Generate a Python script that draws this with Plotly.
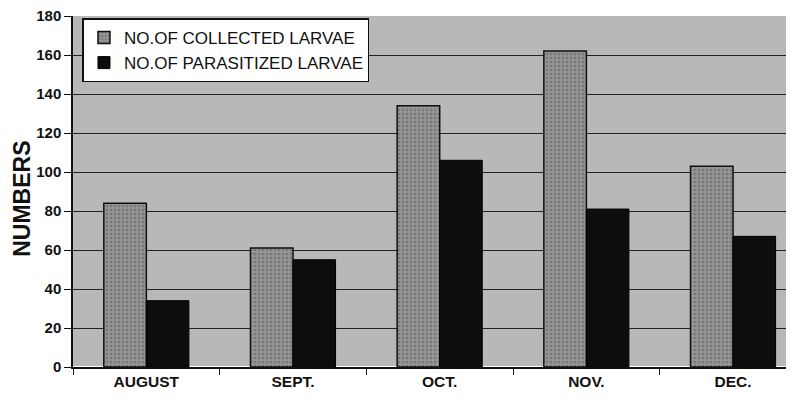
import plotly.graph_objects as go

months = ["AUGUST", "SEPT.", "OCT.", "NOV.", "DEC."]
collected = [84, 61, 134, 162, 103]
parasitized = [34, 55, 106, 81, 67]
y_ticks = [0, 20, 40, 60, 80, 100, 120, 140, 160, 180]

fig = go.Figure()
fig.add_trace(go.Bar(
    x=months, y=collected, name="NO.OF COLLECTED LARVAE",
    marker=dict(color="#8e8e8e", line=dict(color="#111111", width=1.5),
                pattern=dict(shape=".", fgcolor="#5a5a5a", bgcolor="#959595", size=4, solidity=0.35)),
))
fig.add_trace(go.Bar(
    x=months, y=parasitized, name="NO.OF PARASITIZED LARVAE",
    marker=dict(color="#0d0d0d", line=dict(color="#000000", width=1)),
))

fig.update_layout(
    width=794, height=402,
    margin=dict(l=65, r=0, t=8, b=43),
    paper_bgcolor="white",
    plot_bgcolor="#b8b8b8",
    barmode="group", bargap=0.42, bargroupgap=0.0,
    font=dict(family="Liberation Sans, Arial, sans-serif", color="#111111"),
    showlegend=True,
    legend=dict(
        x=0.013, y=0.993, xanchor="left", yanchor="top",
        bgcolor="white", bordercolor="#111111", borderwidth=1.5,
        font=dict(size=17, family="Liberation Sans, Arial, sans-serif", color="#111111"),
        itemwidth=30, tracegroupgap=0,
    ),
    annotations=[dict(
        text="<b>NUMBERS</b>", x=-0.071, y=0.48, xref="paper", yref="paper",
        textangle=-90, showarrow=False, xanchor="center", yanchor="middle",
        font=dict(size=23, family="Liberation Sans, Arial, sans-serif", color="#111111"),
    )],
)
fig.update_xaxes(
    range=[-0.5, 4.47], automargin=False,
    showline=True, linecolor="#111111", linewidth=1.5,
    ticks="outside", tickson="boundaries", ticklen=6, tickcolor="#111111",
    tickfont=dict(size=15.5, family="Liberation Sans, Arial, sans-serif", weight="bold"),
    showgrid=False,
)
fig.update_yaxes(
    range=[0, 180], tickvals=y_ticks, automargin=False, ticklabeloverflow="allow",
    showline=True, linecolor="#111111", linewidth=1.5, mirror=False,
    ticks="outside", ticklen=7, tickcolor="#111111",
    tickfont=dict(size=15, family="Liberation Sans, Arial, sans-serif", weight="bold"),
    showgrid=True, gridcolor="#222222", gridwidth=1,
)
fig.write_html("out.html")
